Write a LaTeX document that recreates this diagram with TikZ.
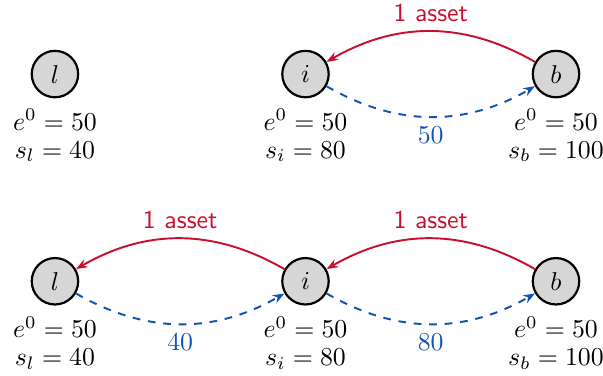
\documentclass[tikz,border=0pt]{standalone}
\usepackage{xcolor}
\usepackage{tikz}
\usetikzlibrary{arrows.meta,positioning}
\definecolor{assetred}{RGB}{200,16,46}
\definecolor{cashblue}{RGB}{16,82,176}

\begin{document}
\begin{tikzpicture}[
  node distance=2.75cm,
  bank/.style={circle, draw, line width=0.85pt, fill=black!16, minimum size=18pt, inner sep=0pt},
  info/.style={align=center, inner sep=0pt, font=\linespread{0.9}\selectfont},
  asset/.style={assetred, line width=0.75pt, -{Stealth[length=4.5pt]}, bend right=30},
  cash/.style={cashblue, line width=0.75pt, dashed, -{Stealth[length=4.5pt]}, bend right=30}
]
\useasboundingbox (-21.3pt,-116.7pt) rectangle (212.4pt,28.7pt);

% before
\node[bank] (l1) at (0,0) {$l$};
\node[bank, right=of l1] (i1) {$i$};
\node[bank, right=of i1] (b1) {$b$};

\node[info, below=4pt of l1] (l1info) {$e^0=50$\\ $s_l=40$};
\node[info, below=4pt of i1] (i1info) {$e^0=50$\\ $s_i=80$};
\node[info, below=4pt of b1] (b1info) {$e^0=50$\\ $s_b=100$};

\draw[asset] (b1) to node[above] {\textsf{1 asset}} (i1);
\draw[cash] (i1) to node[below] {50} (b1);

% after
\node[bank, below=2.16cm of l1] (l2) {$l$};
\node[bank, right=of l2] (i2) {$i$};
\node[bank, right=of i2] (b2) {$b$};

\node[info, below=4pt of l2] (l2info) {$e^0=50$\\ $s_l=40$};
\node[info, below=4pt of i2] (i2info) {$e^0=50$\\ $s_i=80$};
\node[info, below=4pt of b2] (b2info) {$e^0=50$\\ $s_b=100$};

\draw[asset] (i2) to node[above] {\textsf{1 asset}} (l2);
\draw[asset] (b2) to node[above] {\textsf{1 asset}} (i2);
\draw[cash] (l2) to node[below] {40} (i2);
\draw[cash] (i2) to node[below] {80} (b2);
\end{tikzpicture}
\end{document}
